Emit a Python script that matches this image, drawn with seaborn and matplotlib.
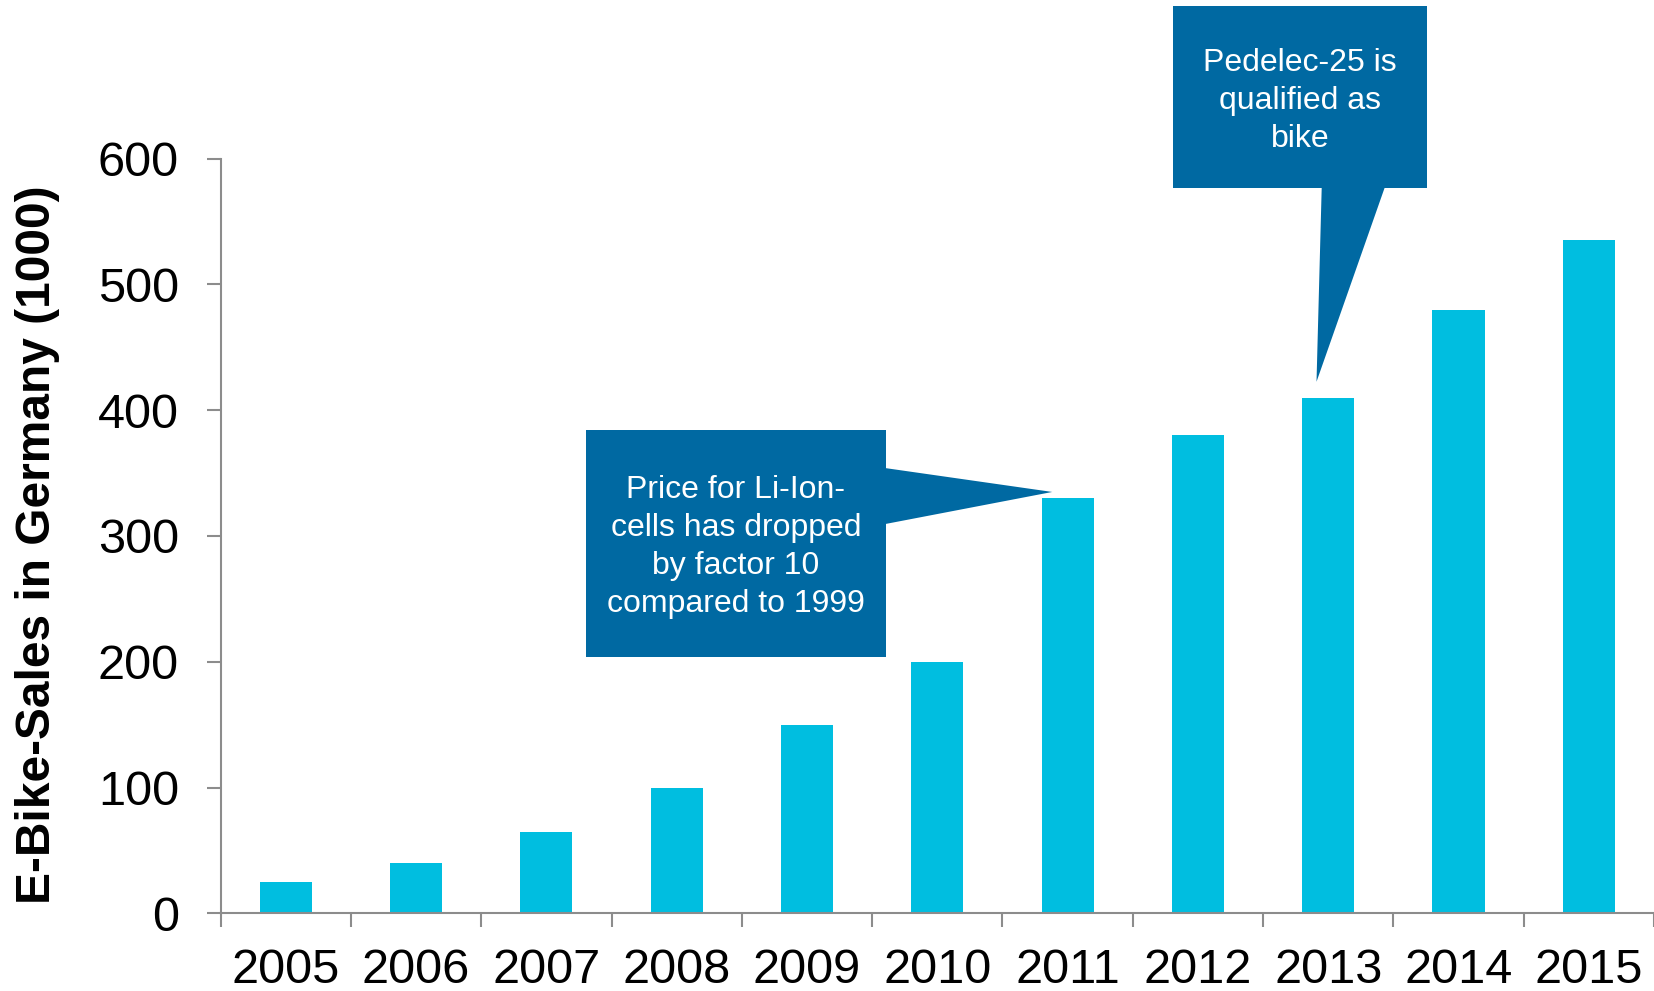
import matplotlib
matplotlib.use("Agg")
import matplotlib.pyplot as plt
from matplotlib.patches import Polygon
import numpy as np
import pandas as pd
import seaborn as sns

# E-bike sales in Germany, thousands of units
years = ["2005", "2006", "2007", "2008", "2009", "2010",
         "2011", "2012", "2013", "2014", "2015"]
sales = [25, 40, 65, 100, 150, 200, 330, 380, 410, 480, 535]
y_ticks = [0, 100, 200, 300, 400, 500, 600]

note_liion = "Price for Li-Ion-\ncells has dropped\nby factor 10\ncompared to 1999"
note_pedelec = "Pedelec-25 is\nqualified as\nbike"

BAR_COLOR = "#00BEE0"
CALLOUT_COLOR = "#0069A2"
AXIS_COLOR = "#8C8C8C"

sns.set_theme(style="white")
plt.rcParams["font.family"] = ["Liberation Sans", "DejaVu Sans"]

df = pd.DataFrame({"year": years, "sales": sales})

fig = plt.figure(figsize=(16.54, 9.91), dpi=100)
ax = fig.add_axes([0.1334, 0.0784, 0.8666, 0.7615])

sns.barplot(data=df, x="year", y="sales", color=BAR_COLOR, saturation=1,
            width=0.4, ax=ax, edgecolor="none")

ax.set_ylim(0, 600)
ax.set_xlim(-0.5, len(years) - 0.5)
ax.set_yticks(y_ticks)
ax.set_yticklabels([str(v) for v in y_ticks])

# tick marks sit on category boundaries, labels in the middle
ax.set_xticks(np.arange(len(years) + 1) - 0.5)
ax.set_xticklabels([])
ax.set_xticks(np.arange(len(years)), minor=True)
ax.set_xticklabels(years, minor=True)
ax.tick_params(axis="x", which="major", direction="out", length=10, width=1.5,
               color=AXIS_COLOR, bottom=True)
ax.tick_params(axis="x", which="minor", length=0, pad=25, labelsize=35,
               labelcolor="black", bottom=True)
ax.tick_params(axis="y", direction="out", length=10, width=1.5, color=AXIS_COLOR,
               pad=20, labelsize=35, labelcolor="black", left=True)

for side in ("top", "right"):
    ax.spines[side].set_visible(False)
for side in ("left", "bottom"):
    ax.spines[side].set_color(AXIS_COLOR)
    ax.spines[side].set_linewidth(1.5)

ax.set_xlabel("")
ax.set_ylabel("E-Bike-Sales in Germany (1000)", fontsize=34.5, fontweight="bold",
              color="black")
ax.yaxis.set_label_coords(-0.1121, 0.4887)


def callout(box, tail, tip, text):
    """Speech-bubble box with a pointed tail, drawn in data coordinates."""
    x0, x1, y0, y1 = box
    rect = Polygon([(x0, y0), (x1, y0), (x1, y1), (x0, y1)], closed=True,
                   facecolor=CALLOUT_COLOR, edgecolor="none", clip_on=False,
                   zorder=5)
    ax.add_patch(rect)
    tri = Polygon([tail[0], tip, tail[1]], closed=True, facecolor=CALLOUT_COLOR,
                  edgecolor="none", clip_on=False, zorder=5)
    ax.add_patch(tri)
    ax.text((x0 + x1) / 2, (y0 + y1) / 2 - 3, text, ha="center", va="center",
            color="white", fontsize=23, linespacing=1.35, zorder=6)


i11 = years.index("2011")
callout(box=(2.303, 4.604, 204, 384),
        tail=[(4.6, 354), (4.6, 309.5)],
        tip=(i11 - 0.118, sales[i11] + 5),
        text=note_liion)

i13 = years.index("2013")
callout(box=(6.811, 8.760, 577, 721),
        tail=[(7.950, 577.5), (8.435, 577.5)],
        tip=(i13 - 0.09, sales[i13] + 12.6),
        text=note_pedelec)

fig.savefig("out.png", dpi=100)
